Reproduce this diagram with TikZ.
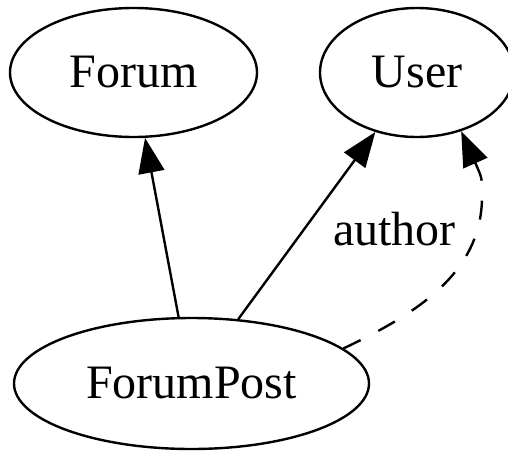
\documentclass[tikz,border=0pt]{standalone}
\usepackage{fontspec}
\setmainfont{Liberation Serif}
\usetikzlibrary{shapes.geometric,arrows.meta}
\begin{document}
\begin{tikzpicture}[x=1pt,y=-1pt,
  ent/.style={ellipse,draw,line width=2.4pt,inner sep=0pt,font=\fontsize{48}{58}\selectfont},
  link/.style={line width=2.4pt,-{Triangle[length=35pt,width=26pt]}},
  lbl/.style={font=\fontsize{48}{58}\selectfont,inner sep=0pt,anchor=base}]
\useasboundingbox (0,0) rectangle (508,450);
\node[ent,minimum width=247pt,minimum height=129pt] (forum) at (133.5,72.5) {Forum};
\node[ent,minimum width=194pt,minimum height=129pt] (user) at (417,72.5) {User};
\node[ent,minimum width=355pt,minimum height=131pt] (fp) at (191.5,383.5) {ForumPost};
\draw[link] (fp.101) -- (forum.-80);
\draw[link] (fp.54) -- (user.-125);
\coordinate (c1) at (425,310);
\coordinate (c2) at (484,268);
\coordinate (k) at (482,192);
\coordinate (c3) at (482,178);
\draw[link,dash pattern=on 19pt off 20pt] (fp.13.5) .. controls (c1) and (c2) .. (k) .. controls (c3) .. (user.-53);
\node[lbl] (author) at (394.5,245) {author};
\end{tikzpicture}
\end{document}
